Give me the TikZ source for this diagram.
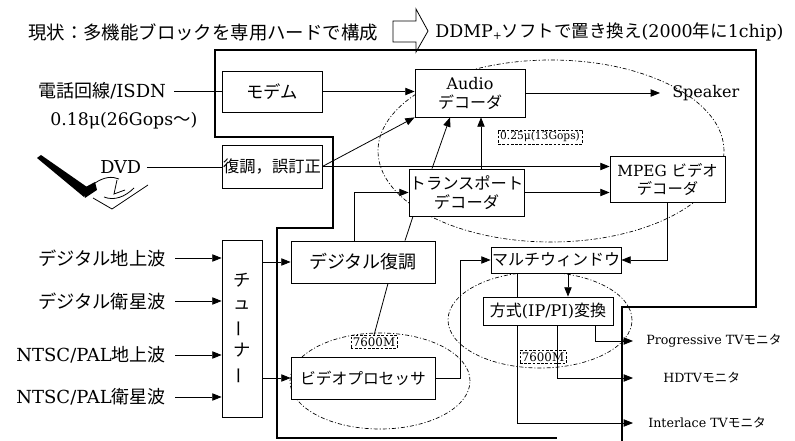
\documentclass[tikz,border=0pt]{standalone}
\usepackage{fontspec}
\setmainfont{DejaVu Serif}
\newfontfamily\jp{Noto Sans CJK JP}
\newcommand\JP[1]{{\jp #1}}
\newcommand\fs[1]{\fontsize{#1}{#1}\selectfont}
\usetikzlibrary{arrows.meta,calc}

\begin{document}
\begin{tikzpicture}[x=0.75pt,y=-0.75pt,line join=miter,
  blk/.style={draw,line width=0.6pt,fill=white,inner sep=0pt,align=center},
  wire/.style={line width=0.6pt},
  arr/.style={wire,-{Triangle[length=7pt,width=5.5pt]}},
  outline/.style={line width=2.2pt},
  zone/.style={line width=0.5pt,dash pattern=on 3pt off 1.5pt on 0.8pt off 1.5pt},
  note/.style={draw,line width=0.4pt,dash pattern=on 2pt off 1.2pt,inner sep=1.5pt},
  lbl/.style={inner sep=0pt}]

\useasboundingbox (0,0) rectangle (795,441);

% headline
\node[lbl,anchor=west,font={\jp\fs{13.8}}] (title) at (28,32) {現状：多機能ブロックを専用ハードで構成};
\draw[wire] (393,21) -- (416,21) -- (416,9) -- (428,31) -- (416,52) -- (416,42) -- (393,42) -- cycle;
\node[lbl,anchor=west,font=\fs{13.1}] (goal) at (435,32)
  {DDMP\raisebox{-0.25ex}{\fs{8}+}\JP{ソフトで置き換え}(2000\JP{年に}1chip)};

% integration zones
\draw[zone] (551,151) ellipse [x radius=129.75pt, y radius=68.25pt];
\draw[zone] (380,381) ellipse [x radius=67.5pt, y radius=36pt];
\draw[zone] (540,320) ellipse [x radius=69pt, y radius=36pt];

% chip boundary
\draw[outline] (622,441) -- (622,307) -- (756,307) -- (756,50) -- (215,50) -- (215,137)
  -- (333,137) -- (333,228) -- (277,228) -- (277,438) -- (557,438);

% DVD pictogram
\fill (37,158) -- (41,155) -- (87,187) -- (84,197) -- cycle;
\fill (82,189) -- (95,182) -- (97,190) -- (85,198) -- cycle;
\draw[wire] (95,183) .. controls (104,177) and (112,176) .. (119,179);
\draw[wire] (93,198) -- (112,209) -- (148,185);
\draw[wire] (104,197) .. controls (114,201) and (125,197) .. (134,188);
\draw[wire] (117,180) -- (114,194) -- (125,190);

% sources
\node[lbl,anchor=west,font=\fs{13.5}] (phone) at (38,91) {\JP{電話回線}/ISDN};
\node[lbl,anchor=west,font=\fs{13}] (speed) at (50,121) {0.18μ(26Gops\JP{〜})};
\node[lbl,anchor=west,font=\fs{13.3}] (dvd) at (100,167) {DVD};
\node[lbl,anchor=east,font={\jp\fs{13.7}}] (in1) at (166,258) {デジタル地上波};
\node[lbl,anchor=east,font={\jp\fs{13.7}}] (in2) at (166,301) {デジタル衛星波};
\node[lbl,anchor=east,font=\fs{13.5}] (in3) at (166,355) {NTSC/PAL\JP{地上波}};
\node[lbl,anchor=east,font=\fs{13.5}] (in4) at (166,397) {NTSC/PAL\JP{衛星波}};

% blocks
\node[blk,minimum width=75pt,minimum height=30.75pt,font={\jp\fs{13}}] (modem) at (272,91.5) {モデム};
\node[blk,minimum width=75pt,minimum height=32.25pt,font={\jp\fs{12.2}}] (fix) at (272,166.5) {復調，誤訂正};
\node[blk,minimum width=82.5pt,minimum height=36pt,font=\fontsize{12}{14.25}\selectfont] (audio) at (470,93) {Audio\\\JP{デコーダ}};
\node[blk,minimum width=86.25pt,minimum height=35.25pt,font={\jp\fontsize{12.2}{14.25}\selectfont}] (trans) at (466.5,192.5) {トランスポート\\デコーダ};
\node[blk,minimum width=86.25pt,minimum height=34.5pt,font=\fontsize{11.5}{13.5}\selectfont] (mpeg) at (667.5,179) {MPEG \JP{ビデオ}\\\JP{デコーダ}};
\node[blk,minimum width=97.5pt,minimum height=19.5pt,font={\jp\fs{12}}] (multi) at (556,260) {マルチウィンドウ};
\node[blk,minimum width=97.5pt,minimum height=21pt,font=\fs{12}] (conv) at (548,311) {\JP{方式}(IP/PI)\JP{変換}};
\node[blk,minimum width=108pt,minimum height=31.5pt,font={\jp\fs{13.5}}] (dem) at (363,262) {デジタル復調};
\node[blk,minimum width=108pt,minimum height=31.5pt,font={\jp\fs{11.8}}] (vproc) at (363,378) {ビデオプロセッサ};
\node[blk,minimum width=30pt,minimum height=132.75pt,font={\jp\fontsize{13}{17.5}\selectfont}] (tuner) at (242,328.5)
  {チ\\ュ\\\rotatebox[origin=c]{90}{ー}\\ナ\\\rotatebox[origin=c]{90}{ー}};

% annotations
\node[note,font=\fs{8}] (rate1) at (540,137) {0.25μ(13Gops)};
\node[note,font=\fs{8.9}] (rate2) at (374,342) {7600M};
\node[note,font=\fs{8.9}] (rate3) at (543,357) {7600M};

% sinks
\node[lbl,anchor=west,font=\fs{12}] (spk) at (672,93) {Speaker};
\node[lbl,anchor=west,font=\fs{9.5}] (mP) at (646,341) {Progressive TV\JP{モニタ}};
\node[lbl,anchor=west,font=\fs{9.5}] (mH) at (663,378) {HDTV\JP{モニタ}};
\node[lbl,anchor=west,font=\fs{9.5}] (mI) at (648,423) {Interlace TV\JP{モニタ}};
\coordinate (tipS) at (660,93);
\coordinate (tipP) at (633,341);
\coordinate (tipH) at (633,378);
\coordinate (tipI) at (633,423);

% connections
\draw[wire] ([xshift=6pt]phone.east) -- (phone.east -| modem.west);
\draw[wire] ([xshift=4pt]dvd.east) -- (dvd.east -| fix.west);
\foreach \n in {in1,in2,in3,in4}
  \draw[arr] ([xshift=7pt]\n.east) -- (\n.east -| tuner.west);
\draw[arr] (tuner.east |- dem.west) -- (dem.west);
\draw[arr] (tuner.east |- vproc.west) -- (vproc.west);
\draw[arr] (modem.east) -- (modem.east -| audio.west);
\draw[arr] (fix.east) -- (audio.south west);
\draw[arr] (fix.east) -- (fix.east -| mpeg.west);
\draw[arr] (trans.east) -- (trans.east -| mpeg.west);
\draw[arr] ($(trans.north)+(14.5,0)$) -- ($(audio.south)+(11,0)$);
\draw[arr] ($(trans.north)+(-34.5,0)$) -- ($(audio.south)+(-20,0)$);
\draw[wire] ($(dem.north)+(42,0)$) -- ($(trans.south)+(-53.5,0)$);
\draw[arr] ($(dem.north)+(-9,0)$) |- (trans.west);
\draw[wire] ($(dem.south)+(25,0)$) -- (rate2.north);
\draw[arr] (vproc.east) -| ($(multi.west)+(-30,0)$) -- (multi.west);
\draw[arr] (mpeg.south) |- (multi.east);
\draw[arr] ($(multi.south)+(12,0)$) -- ($(conv.north)+(20,0)$);
\draw[wire] ($(multi.south)+(-39,0)$) -- ($(conv.north)+(-31,0)$);
\draw[arr] ($(conv.south)+(-31,0)$) |- (tipI);
\draw[arr] ($(conv.south)+(9,0)$) |- (tipH);
\draw[arr] ($(conv.south)+(47,0)$) |- (tipP);
\draw[arr] (audio.east) -- (audio.east -| tipS);
\end{tikzpicture}
\end{document}
